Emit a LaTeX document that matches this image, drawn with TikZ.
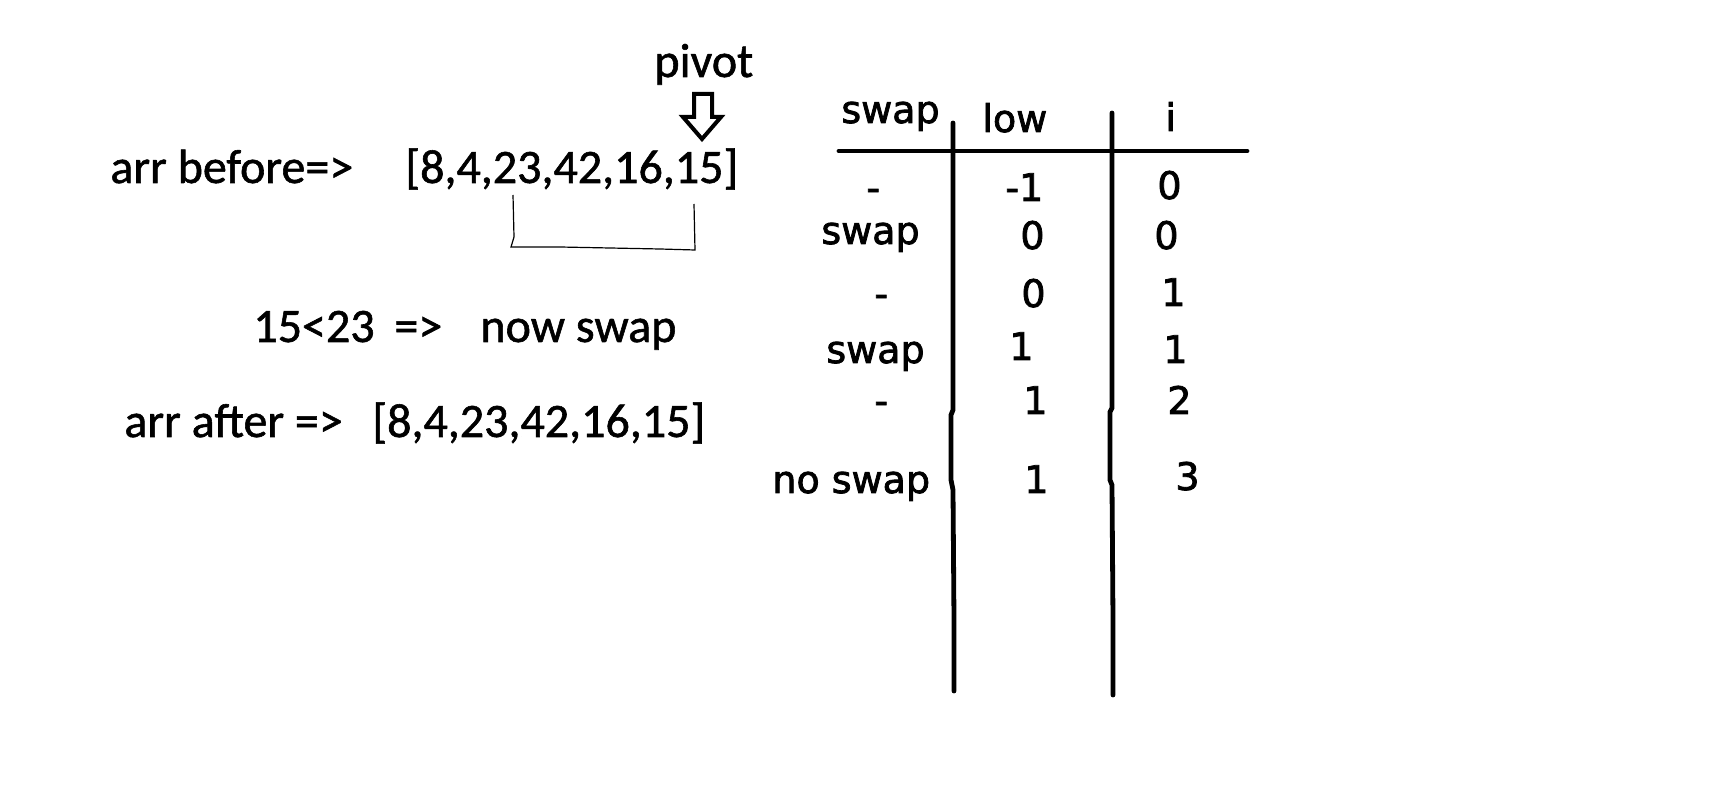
\documentclass[tikz,border=0pt]{standalone}
\usepackage{fontspec}
\setmainfont{Carlito}[FakeBold=1.2]
\newfontfamily\tabfont{DejaVu Sans}[FakeBold=2]
\begin{document}
\begin{tikzpicture}[x=0.5pt,y=-0.5pt,
  lt/.style={inner sep=0pt,anchor=base west,font=\fontsize{24}{28}\selectfont},
  tt/.style={inner sep=0pt,anchor=base west,font=\tabfont\fontsize{19}{23}\selectfont},
  rule/.style={line width=2.4pt,line cap=round},
  thin/.style={line width=0.6pt}]
\fill[white] (0,0) rectangle (1720,796);
\useasboundingbox (0,0) rectangle (1720,796);
% left texts
\node[lt] (pivot) at (654,77) {pivot};
\node[lt] (before) at (110,183) {arr before=>};
\node[lt] (arr1) at (405,183) {[8,4,23,42,16,15]};
\node[lt] (cmp) at (253,342) {15<23};
\node[lt] (impl) at (394,342) {=>};
\node[lt] (now) at (480,342) {now swap};
\node[lt] (after) at (124,437) {arr after =>};
\node[lt] (arr2) at (372,437) {[8,4,23,42,16,15]};
% hollow arrow
\draw[line width=2pt,line join=miter] (694,94) -- (712,94) -- (712,117) -- (721,117) -- (702,139) -- (683,117) -- (694,117) -- cycle;
% bracket connector
\draw[thin] (513,195) -- (514,237) -- (511,247) -- (560,247) -- (660,249) -- (695,250) -- (694,204);
% table texts
\node[tt] (hswap) at (841,123) {swap};
\node[tt] (hlow) at (982,132) {low};
\node[tt] (hi) at (1165,131) {i};
\node[tt] (s1) at (866,201) {-};
\node[tt] (l1) at (1005,201) {-1};
\node[tt] (i1) at (1157,199) {0};
\node[tt] (s2) at (821,244) {swap};
\node[tt] (l2) at (1020,249) {0};
\node[tt] (i2) at (1154,249) {0};
\node[tt] (s3) at (874,307) {-};
\node[tt] (l3) at (1021,307) {0};
\node[tt] (i3) at (1161,306) {1};
\node[tt] (s4) at (826,363) {swap};
\node[tt] (l4) at (1009,360) {1};
\node[tt] (i4) at (1163,363) {1};
\node[tt] (s5) at (874,414) {-};
\node[tt] (l5) at (1023,414) {1};
\node[tt] (i5) at (1167,414) {2};
\node[tt] (s6) at (772,493) {no swap};
\node[tt] (l6) at (1024,493) {1};
\node[tt] (i6) at (1175,490) {3};
% table rules
\draw[rule] (839,151) -- (1247,151);
\draw[rule] (953,123) -- (953,410) -- (951,415) -- (951,480) -- (953,490) -- (954,620) -- (954,691);
\draw[rule] (1112,113) -- (1112,408) -- (1110,412) -- (1110,480) -- (1112,485) -- (1113,620) -- (1113,695);
\end{tikzpicture}
\end{document}
